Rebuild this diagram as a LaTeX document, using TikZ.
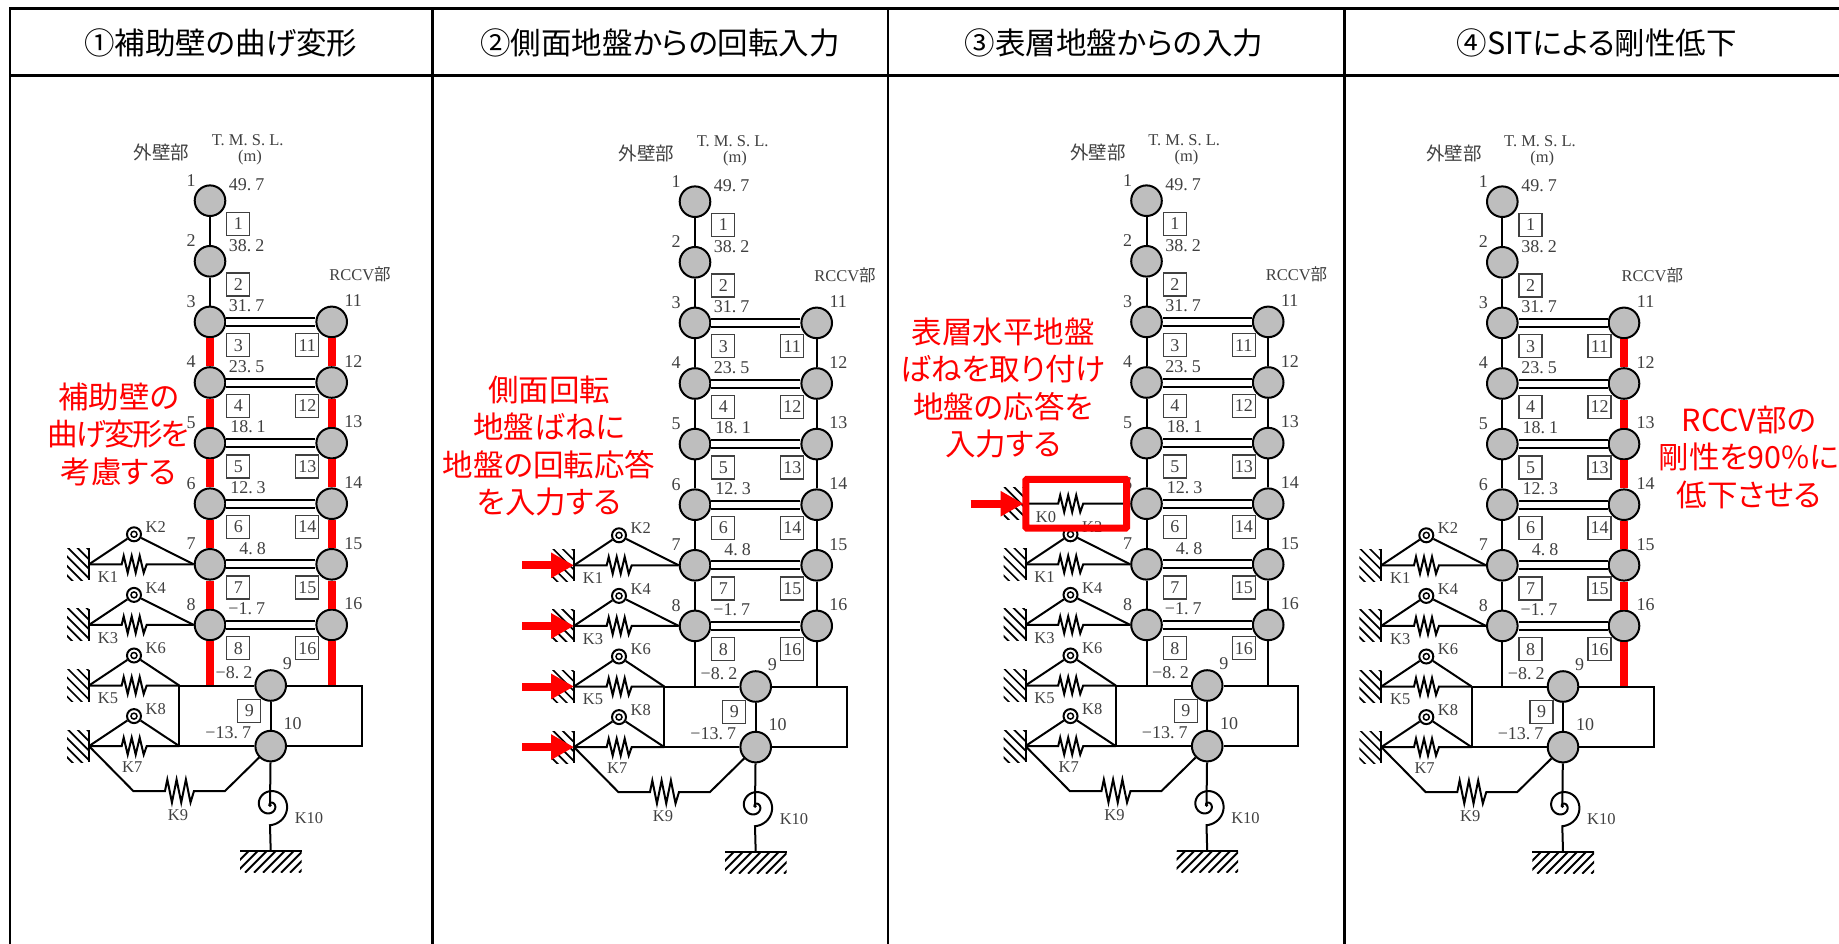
\documentclass[tikz,border=0pt]{standalone}
\usepackage{fontspec}
\setmainfont{Liberation Serif}
\newfontfamily\jpfont[RawFeature=+palt]{Noto Sans CJK JP}
\usetikzlibrary{arrows.meta}
\definecolor{labgray}{HTML}{404040}
\definecolor{massgray}{HTML}{BEBEBE}
\newcommand\zig[2]{-- ++({.08*#1},{-.5*#2}) -- ++({.16*#1},{#2}) -- ++({.16*#1},{-#2}) -- ++({.16*#1},{#2}) -- ++({.16*#1},{-#2}) -- ++({.16*#1},{#2}) -- ++({.12*#1},{-.5*#2})}
\tikzset{
        masspt/.style={circle,draw,fill=massgray,minimum size=30.6pt,inner sep=0pt},
        rotspr/.style={circle,draw,minimum size=14pt,inner sep=0pt},
        elembox/.style={draw=labgray,line width=1.3pt,minimum size=23pt,inner sep=0pt,text=labgray,font=\fontsize{18}{20}\selectfont},
        lab/.style={text=labgray,inner sep=0pt,font=\fontsize{18}{20}\selectfont},
        smalllab/.style={text=labgray,inner sep=0pt,font=\fontsize{16.5}{16}\selectfont},
        jplab/.style={text=labgray,inner sep=0pt,font=\jpfont\fontsize{18.5}{18}\selectfont},
        headtxt/.style={inner sep=0pt,font=\jpfont\fontsize{30.5}{36}\selectfont},
        redtxt/.style={inner sep=0pt,text=red,align=center,font=\jpfont\fontsize{30.5}{37.5}\selectfont},
        plainwall/.style={draw=black,line width=2pt},
        bendwall/.style={draw=red,line width=8pt},
        beamline/.style={double,double distance=6pt,line width=2pt},
        redarrow/.style={draw=red,line width=8pt,-{Triangle[length=23pt,width=24pt,fill=red]}},
        pics/wallhatch/.style={code={
                \draw (0,-16) -- (0,16);
                \begin{scope}
                \clip (-22,-16) rectangle (0,16);
                \foreach \d in {-24,-14.5,...,40} \draw[line width=1.7pt] (-24,\d-24) -- (0,\d);
                \end{scope}
        }},
        pics/lumpmodel/.style 2 args={code={
                \foreach \i in {1,...,8} \node[masspt] (n\i) at (0,{(\i-1)*60.6}) {};
                \foreach \i in {11,...,16} \node[masspt] (n\i) at (121.7,{(\i-9)*60.6}) {};
                \node[masspt] (n9) at (60.7,484.8) {};
                \node[masspt] (n10) at (60.7,545.4) {};
                \coordinate (bl) at (-30.7,484.8);
                \coordinate (br) at (151.7,484.8);
                \coordinate (cl) at (-30.7,545.4);
                \coordinate (cr) at (151.7,545.4);
                \coordinate (bm) at (0,484.8);
                \coordinate (bn) at (121.7,484.8);
                \draw (n1) -- (n2);
                \draw (n2) -- (n3);
                \foreach \i/\j in {3/4,4/5,5/6,6/7,7/8} \draw[#1] (n\i) -- (n\j);
                \draw[#1] (n8) -- (bm);
                \foreach \i/\j in {11/12,12/13,13/14,14/15,15/16} \draw[#2] (n\i) -- (n\j);
                \draw[#2] (n16) -- (bn);
                \foreach \i/\j in {3/11,4/12,5/13,6/14,7/15,8/16} \draw[beamline] (n\i) -- (n\j);
                \draw (bl) -- (n9);
                \draw (n9) -- (br) -- (cr) -- (n10);
                \draw (n10) -- (cl) -- (bl);
                \draw (n9) -- (n10);
                \foreach \r/\t/\ks/\kr/\lx/\ly in {363.6/n7.west/K1/K2/-102/13,424.2/n8.west/K3/K4/-102/13,484.8/bl/K5/K6/-102/13,545.4/cl/K7/K8/-77.7/21}{
                        \coordinate (w\ks) at (-121,\r);
                        \pic at (w\ks) {wallhatch};
                        \draw (w\ks) -- ++(32.7,0) \zig{25}{17} -- (\t);
                        \node[rotspr] (r\kr) at (-76,\r-30) {};
                        \draw[line width=1.5pt] (r\kr.center) circle (3);
                        \draw (w\ks) -- (r\kr);
                        \draw (r\kr) -- (\t);
                        \node[smalllab] (lab\ks) at (\lx,\r+\ly) {\ks};
                        \node[smalllab] (lab\kr) at (-54.3,\r-37) {\kr};
                }
                \coordinate (k9a) at (-76.7,590.3);
                \coordinate (k9b) at (15,590.3);
                \draw (wK7) -- (k9a) -- ++(31.7,0) \zig{29}{23} -- (k9b) -- (n10);
                \node[smalllab] (labK9) at (-32,614.5) {K9};
                \coordinate (k10c) at (60,604.5);
                \coordinate (gnd) at (60.7,650);
                \coordinate (gl) at (30,650);
                \coordinate (gr) at (91.7,650);
                \draw (n10) -- (k10c);
                \fill (k10c) circle (1.8);
                \draw[smooth] plot[domain=-500:90,samples=90] ({60+(20-(90-\x)/30)*cos(\x)},{604.5+(20-(90-\x)/30)*sin(\x)}) -- (gnd);
                \draw (gl) -- (gr);
                \begin{scope}
                \clip (30,650) rectangle (91.7,672);
                \foreach \d in {30,39,...,120} \draw (\d,650) -- (\d-22,672);
                \end{scope}
                \node[smalllab] (labK10) at (99,617.5) {K10};
                \foreach \i in {1,...,8} \node[elembox] (e\i) at (28.3,{23.3+(\i-1)*60.6}) {\i};
                \foreach \i in {11,...,16} \node[elembox] (e\i) at (97.3,{23.3+(\i-9)*60.6}) {\i};
                \node[elembox] (e9) at (39.3,510.3) {9};
                \foreach \i in {1,...,8} \node[lab] (no\i) at (-19,{(\i-1)*60.6-20.5}) {\i};
                \foreach \i in {11,...,16} \node[lab] (no\i) at (143.3,{(\i-9)*60.6-21}) {\i};
                \node[lab] (no9) at (77.3,463.3) {9};
                \node[lab] (no10) at (82.7,523.3) {10};
                \foreach \v/\lx/\ly/\tag in {49.\kern4pt 7/36.7/-15.7/a,38.\kern4pt 2/36.7/45/b,31.\kern4pt 7/36.7/105.3/c,23.\kern4pt 5/36.7/166/d,18.\kern4pt 1/38/226.3/e,12.\kern4pt 3/38/287/f,4.\kern4pt 8/42.7/347.6/g,−1.\kern4pt 7/36.7/408/h,−8.\kern4pt 2/24/472/i,−13.\kern4pt 7/18.3/532/j}
                        \node[lab] (lev\tag) at (\lx,\ly) {\v};
                \node[jplab] (wallname) at (-48.3,-48) {外壁部};
                \node[smalllab] (tmsl) at (37.7,-60.7) {T. M. S. L.};
                \node[smalllab] (unit) at (40,-43) {(m)};
                \node[smalllab] (rccvname) at (150,73.3) {RCCV{\jpfont 部}};
        }}
}
\begin{document}
\begin{tikzpicture}[x=1pt,y=-1pt,line width=2pt]
        \useasboundingbox (0,0) rectangle (1839,944);
        \draw[line width=2.5pt] (1839,8.3) -- (10,8.3) -- (10,944);
        \draw[line width=2.5pt] (10,75.5) -- (1839,75.5);
        \draw[line width=2.5pt] (432.7,8.3) -- (432.7,944);
        \draw[line width=2.5pt] (888,8.3) -- (888,944);
        \draw[line width=2.5pt] (1344.7,8.3) -- (1344.7,944);
        \node[headtxt] (head1) at (220.8,43) {①補助壁の曲げ変形};
        \node[headtxt] (head2) at (660,43) {②側面地盤からの回転入力};
        \node[headtxt] (head3) at (1114,43) {③表層地盤からの入力};
        \node[headtxt] (head4) at (1596.7,43) {④SITによる剛性低下};
        \pic (p1) at (210,200.7) {lumpmodel={bendwall}{bendwall}};
        \pic (p2) at (695,201.7) {lumpmodel={plainwall}{plainwall}};
        \pic (p3) at (1146.5,200.7) {lumpmodel={plainwall}{plainwall}};
        \pic (p4) at (1502.3,201.7) {lumpmodel={plainwall}{bendwall}};
        \node[redtxt] (note1) at (118.5,434) {補助壁の\\{\addfontfeature{LetterSpace=-7}曲げ変形を}\\考慮する};
        \node[redtxt] (note2) at (549,446) {側面回転\\地盤ばねに\\地盤の回転応答\\を入力する};
        \node[redtxt] (note3) at (1003,388) {表層水平地盤\\ばねを取り付け\\地盤の応答を\\入力する};
        \node[redtxt] (note4) at (1749,457) {RCCV部の\\剛性を90\%に\\低下させる};
        \foreach \k in {K1,K3,K5,K7} \draw[redarrow] ([xshift=-52pt]p2w\k) -- (p2w\k);
        \coordinate (p3wK0) at ([xshift=-121pt]p3n6.center);
        \pic at (p3wK0) {wallhatch};
        \draw (p3wK0) -- ++(32.7,0) \zig{25}{17} -- (p3n6);
        \node[smalllab] (p3labK0) at ([shift={(-100.5,13.5)}]p3n6.center) {K0};
        \node[draw=red,line width=7pt,minimum width=100.7pt,minimum height=48.7pt,inner sep=0pt,rounded corners=1pt] (k0box) at ([xshift=-70.2pt]p3n6.center) {};
        \draw[redarrow] ([xshift=-55pt]p3wK0) -- ([xshift=-2pt]p3wK0);
\end{tikzpicture}
\end{document}
